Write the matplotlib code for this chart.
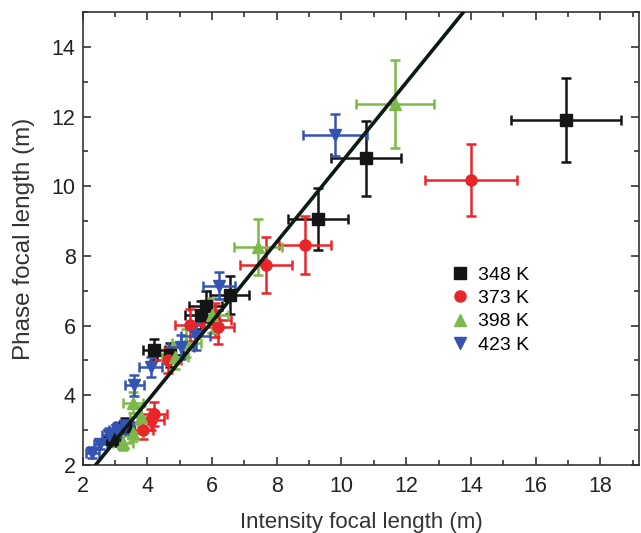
import numpy as np
import matplotlib.pyplot as plt
from matplotlib.lines import Line2D
from matplotlib.ticker import MultipleLocator

plt.rcParams['font.family'] = ['Liberation Sans', 'DejaVu Sans']

# 348 K
x348 = [2.9, 3.3, 4.2, 4.7, 5.65, 5.8, 6.55, 9.28, 10.76, 16.95]
y348 = [2.75, 3.1, 5.3, 5.15, 6.3, 6.55, 6.88, 9.06, 10.8, 11.9]
xe348 = [0.25, 0.3, 0.35, 0.4, 0.5, 0.5, 0.6, 0.93, 1.08, 1.7]
ye348 = [0.2, 0.25, 0.3, 0.35, 0.4, 0.45, 0.55, 0.9, 1.07, 1.2]

# 373 K
x373 = [3.86, 4.1, 4.2, 4.63, 5.31, 6.09, 6.18, 7.67, 8.87, 14.0]
y373 = [3.0, 3.29, 3.45, 5.0, 6.02, 6.16, 5.96, 7.74, 8.32, 10.18]
xe373 = [0.3, 0.4, 0.4, 0.4, 0.45, 0.5, 0.5, 0.8, 0.8, 1.42]
ye373 = [0.25, 0.3, 0.35, 0.35, 0.45, 0.5, 0.5, 0.8, 0.83, 1.04]

# 398 K
x398 = [3.24, 3.55, 3.55, 3.8, 4.85, 5.2, 6.0, 7.42, 11.66]
y398 = [2.63, 2.92, 3.78, 3.38, 5.1, 5.5, 6.3, 8.25, 12.37]
xe398 = [0.3, 0.3, 0.3, 0.35, 0.4, 0.45, 0.5, 0.75, 1.2]
ye398 = [0.2, 0.25, 0.3, 0.3, 0.35, 0.4, 0.5, 0.8, 1.26]

# 423 K
x423 = [2.3, 2.55, 2.8, 3.05, 3.3, 3.6, 4.1, 5.03, 5.5, 6.22, 9.8]
y423 = [2.35, 2.6, 2.85, 3.0, 3.1, 4.28, 4.81, 5.39, 5.7, 7.15, 11.47]
xe423 = [0.2, 0.2, 0.2, 0.25, 0.25, 0.3, 0.35, 0.4, 0.45, 0.5, 1.0]
ye423 = [0.15, 0.15, 0.2, 0.2, 0.2, 0.3, 0.3, 0.35, 0.4, 0.4, 0.6]

labels = ['348 K', '373 K', '398 K', '423 K']
colors = ['#151515', '#e8262a', '#7cb84a', '#3553b3']
markers = ['s', 'o', '^', 'v']

# linear fit
fit_slope = 1.144
fit_icpt = -0.75

fig = plt.figure(figsize=(6.41, 5.33), dpi=100)
ax = fig.add_axes([0.129, 0.128, 0.868, 0.849])

data = [(x348, y348, xe348, ye348), (x373, y373, xe373, ye373),
        (x398, y398, xe398, ye398), (x423, y423, xe423, ye423)]
for (x, y, xe, ye), c, m in zip(data, colors, markers):
    ax.errorbar(x, y, xerr=xe, yerr=ye, fmt=m, color=c, ms=8,
                elinewidth=1.8, capsize=3.5, capthick=1.8, zorder=3)

fx = np.array([2, 16])
ax.plot(fx, fit_slope * fx + fit_icpt, color='#0d1a14', lw=2.6, zorder=4)

ax.set_xlim(2, 19.2)
ax.set_ylim(2, 15)
ax.xaxis.set_major_locator(MultipleLocator(2))
ax.xaxis.set_minor_locator(MultipleLocator(1))
ax.yaxis.set_major_locator(MultipleLocator(2))
ax.yaxis.set_minor_locator(MultipleLocator(1))
ax.tick_params(which='both', direction='in', top=True, right=True,
               color='#333333', width=1.2)
ax.tick_params(which='major', length=6, labelsize=15.5, labelcolor='#222222')
ax.tick_params(axis='x', which='major', pad=8)
ax.tick_params(axis='y', which='major', pad=5)
ax.tick_params(which='minor', length=3.5)
for s in ax.spines.values():
    s.set_color('#333333')
    s.set_linewidth(1.2)

ax.set_xlabel('Intensity focal length (m)', fontsize=16, color='#333333', labelpad=11)
ax.set_ylabel('Phase focal length (m)', fontsize=17.5, color='#333333', labelpad=12)

handles = [Line2D([], [], ls='none', marker=m, color=c, ms=8)
           for m, c in zip(markers, colors)]
ax.legend(handles, labels, loc='upper left', bbox_to_anchor=(0.63, 0.478),
          frameon=False, fontsize=14, handlelength=1, handletextpad=0.4,
          labelspacing=0.3)

fig.savefig('out.png', dpi=100)
